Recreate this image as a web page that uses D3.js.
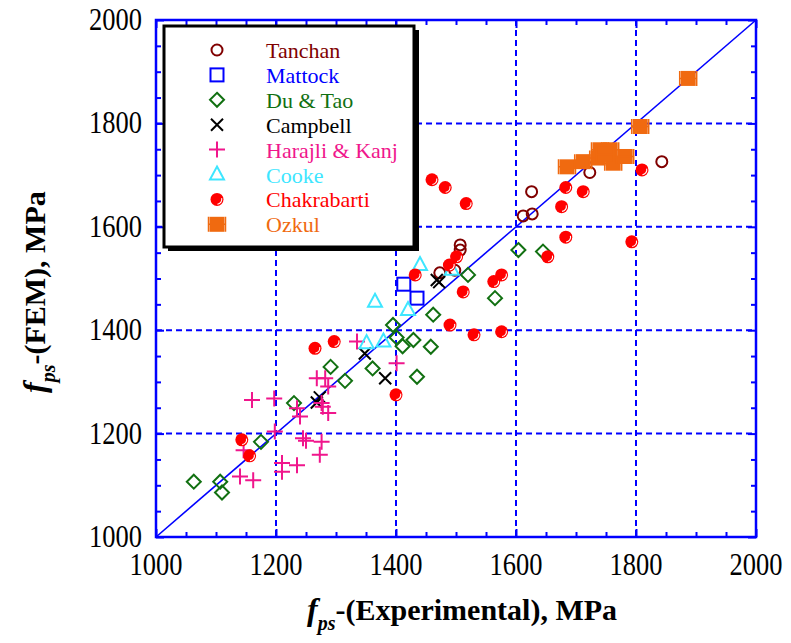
<!DOCTYPE html>
<html>
<head>
<meta charset="utf-8">
<script src="https://cdn.jsdelivr.net/npm/d3@7"></script>
<style>
    body { margin: 0; background: #fff; }
    svg { display: block; font-family: "Liberation Serif", "Times New Roman", serif; }
</style>
</head>
<body>
<div id="chart"></div>
<script>
// series, each point is [experimental, FEM] in MPa
var seriesNames = ['Tanchan', 'Mattock', 'Du & Tao', 'Campbell', 'Harajli & Kanj', 'Cooke', 'Chakrabarti', 'Ozkul'];

var tanchan = [[1843, 1726], [1723, 1705], [1626, 1668], [1612, 1621], [1627, 1625],
    [1507, 1565], [1507, 1555], [1473, 1511], [1498, 1516]];
var mattock = [[1413, 1489], [1435, 1462]];
var duTao = [[1063, 1107], [1107, 1107], [1110, 1086], [1175, 1184], [1230, 1259], [1315, 1302],
    [1291, 1329], [1361, 1326], [1395, 1410], [1401, 1386], [1411, 1369], [1429, 1381],
    [1458, 1368], [1462, 1430], [1435, 1310], [1520, 1507], [1565, 1462], [1604, 1555], [1645, 1552]];
var campbell = [[1268, 1260], [1273, 1270], [1348, 1355], [1382, 1307], [1468, 1497], [1472, 1493]];
var harajliKanj = [[1160, 1265], [1197, 1268], [1235, 1249], [1240, 1233], [1278, 1252], [1287, 1240],
    [1198, 1204], [1245, 1191], [1250, 1186], [1276, 1184], [1273, 1159], [1210, 1143], [1210, 1126],
    [1235, 1139], [1146, 1168], [1140, 1117], [1162, 1110], [1268, 1307], [1282, 1307], [1287, 1291],
    [1276, 1259], [1335, 1378], [1401, 1336]];
var cooke = [[1440, 1526], [1365, 1455], [1420, 1439], [1351, 1375], [1379, 1378], [1493, 1517]];
var chakrabarti = [[1143, 1188], [1156, 1157], [1265, 1365], [1297, 1378], [1400, 1275], [1432, 1507],
    [1489, 1526], [1501, 1542], [1512, 1474], [1563, 1494], [1576, 1507], [1490, 1410], [1530, 1391],
    [1576, 1397], [1653, 1542], [1460, 1691], [1482, 1676], [1517, 1645], [1683, 1676], [1676, 1639],
    [1712, 1668], [1683, 1580], [1793, 1571], [1810, 1710]];
var ozkul = [[1887, 1887], [1807, 1794], [1685, 1716], [1712, 1726], [1740, 1749], [1757, 1749],
    [1762, 1723], [1782, 1736], [1737, 1733], [1748, 1740]];

var tickLabels = [1000, 1200, 1400, 1600, 1800, 2000];
var gridValues = [1200, 1400, 1600, 1800];
var lineOfEquality = [[1000, 1000], [2000, 2000]];

var seriesData = [tanchan, mattock, duTao, campbell, harajliKanj, cooke, chakrabarti, ozkul];
var seriesStyle = [
    { shape: 'circle', color: '#800000' },
    { shape: 'square', color: '#0000ff' },
    { shape: 'diamond', color: '#117011' },
    { shape: 'cross', color: '#000000' },
    { shape: 'plus', color: '#f0168c' },
    { shape: 'triangle', color: '#3ee6ff' },
    { shape: 'dot', color: '#ff0000' },
    { shape: 'block', color: '#f06a10' }
];

function drawMarker(g, shape, color) {
    if (shape === 'circle') {
        g.append('circle').attr('r', 5.5).attr('fill', 'none').attr('stroke', color).attr('stroke-width', 2);
    } else if (shape === 'square') {
        g.append('rect').attr('x', -6.5).attr('y', -6.5).attr('width', 13).attr('height', 13)
            .attr('fill', 'none').attr('stroke', color).attr('stroke-width', 2);
    } else if (shape === 'diamond') {
        g.append('path').attr('d', 'M0,-7L7,0L0,7L-7,0Z')
            .attr('fill', 'none').attr('stroke', color).attr('stroke-width', 2);
    } else if (shape === 'cross') {
        g.append('path').attr('d', 'M-6,-6L6,6M-6,6L6,-6')
            .attr('stroke', color).attr('stroke-width', 2);
    } else if (shape === 'plus') {
        g.append('path').attr('d', 'M-8,0L8,0M0,-8L0,8')
            .attr('stroke', color).attr('stroke-width', 2);
    } else if (shape === 'triangle') {
        g.append('path').attr('d', 'M0,-8L7,5L-7,5Z')
            .attr('fill', 'none').attr('stroke', color).attr('stroke-width', 2);
    } else if (shape === 'dot') {
        g.append('circle').attr('r', 6.5).attr('fill', color);
        // little shine on the lower right
        var r = 4.8, a0 = -15 * Math.PI / 180, a1 = 85 * Math.PI / 180;
        g.append('path')
            .attr('d', 'M' + r * Math.cos(a0) + ',' + r * Math.sin(a0) + 'A' + r + ',' + r + ' 0 0 1 ' + r * Math.cos(a1) + ',' + r * Math.sin(a1))
            .attr('fill', 'none').attr('stroke', '#fff').attr('stroke-width', 1.1);
    } else if (shape === 'block') {
        g.append('rect').attr('x', -7.5).attr('y', -7.5).attr('width', 15).attr('height', 15).attr('fill', color);
        g.append('path').attr('d', 'M-8.5,-7.5L-8.5,7.5M8.5,-7.5L8.5,7.5M-8.5,0L8.5,0')
            .attr('stroke', color).attr('stroke-width', 1.5);
    }
}

(function () {
    var width = 791, height = 643;
    var plot = { left: 156, right: 756, top: 20, bottom: 537 };

    var svg = d3.select('#chart').append('svg').attr('width', width).attr('height', height);

    var xScale = d3.scaleLinear().domain([1000, 2000]).range([plot.left, plot.right]);
    var yScale = d3.scaleLinear().domain([1000, 2000]).range([plot.bottom, plot.top]);
    var blue = '#0000ff';

    // grid
    var grid = svg.append('g').attr('class', 'grid')
        .attr('stroke', blue).attr('stroke-width', 2).attr('stroke-dasharray', '6,4');
    grid.selectAll('.gx').data(gridValues).enter().append('line')
        .attr('x1', function (d) { return xScale(d); }).attr('x2', function (d) { return xScale(d); })
        .attr('y1', plot.top).attr('y2', plot.bottom);
    grid.selectAll('.gy').data(gridValues).enter().append('line')
        .attr('y1', function (d) { return yScale(d); }).attr('y2', function (d) { return yScale(d); })
        .attr('x1', plot.left).attr('x2', plot.right);

    // ticks on all four sides, pointing inwards
    var tickVals = d3.range(1000, 2001, 50);
    var tickLen = function (d) { return d % 200 === 0 ? 8 : 5; };
    var axes = [
        d3.axisBottom(xScale).tickValues(tickVals),
        d3.axisTop(xScale).tickValues(tickVals),
        d3.axisLeft(yScale).tickValues(tickVals),
        d3.axisRight(yScale).tickValues(tickVals)
    ];
    var offsets = ['translate(0,' + plot.bottom + ')', 'translate(0,' + plot.top + ')',
        'translate(' + plot.left + ',0)', 'translate(' + plot.right + ',0)'];
    axes.forEach(function (ax, i) {
        var g = svg.append('g').attr('transform', offsets[i]).call(ax.tickSizeOuter(0).tickFormat(''));
        g.select('.domain').remove();
        g.selectAll('.tick line').attr('stroke', blue).attr('stroke-width', 2)
            .each(function (d) {
                var l = tickLen(d);
                var line = d3.select(this);
                if (i === 0) line.attr('y2', -l);
                if (i === 1) line.attr('y2', l);
                if (i === 2) line.attr('x2', l);
                if (i === 3) line.attr('x2', -l);
            });
    });

    // frame
    svg.append('rect').attr('x', plot.left).attr('y', plot.top)
        .attr('width', plot.right - plot.left).attr('height', plot.bottom - plot.top)
        .attr('fill', 'none').attr('stroke', blue).attr('stroke-width', 2.5);

    // tick labels
    svg.append('g').selectAll('text').data(tickLabels).enter().append('text')
        .attr('x', function (d) { return xScale(d); }).attr('y', 575)
        .attr('text-anchor', 'middle').attr('font-size', 31)
        .attr('textLength', 53).attr('lengthAdjust', 'spacingAndGlyphs')
        .text(function (d) { return d; });
    svg.append('g').selectAll('text').data(tickLabels).enter().append('text')
        .attr('x', 142).attr('y', function (d) { return yScale(d) + 10; })
        .attr('text-anchor', 'end').attr('font-size', 31)
        .attr('textLength', 53).attr('lengthAdjust', 'spacingAndGlyphs')
        .text(function (d) { return d; });

    // 1:1 line
    svg.append('path').datum(lineOfEquality)
        .attr('d', d3.line().x(function (d) { return xScale(d[0]); }).y(function (d) { return yScale(d[1]); }))
        .attr('stroke', blue).attr('stroke-width', 1.6).attr('fill', 'none');

    // points
    seriesData.forEach(function (data, i) {
        var st = seriesStyle[i];
        svg.append('g').attr('class', 'series')
            .selectAll('.pt').data(data).enter().append('g').attr('class', 'pt')
            .attr('transform', function (d) { return 'translate(' + xScale(d[0]) + ',' + yScale(d[1]) + ')'; })
            .each(function () { drawMarker(d3.select(this), st.shape, st.color); });
    });

    // legend
    var legend = svg.append('g').attr('class', 'legend');
    legend.append('rect').attr('x', 168).attr('y', 30).attr('width', 251).attr('height', 221).attr('fill', '#000');
    legend.append('rect').attr('x', 164).attr('y', 26).attr('width', 250).attr('height', 221)
        .attr('fill', '#fff').attr('stroke', '#000').attr('stroke-width', 3);
    var items = legend.selectAll('.item').data(seriesNames).enter().append('g').attr('class', 'item')
        .attr('transform', function (d, i) { return 'translate(0,' + (50 + i * 24.9) + ')'; });
    items.append('g').attr('transform', 'translate(217,0)')
        .each(function (d, i) { drawMarker(d3.select(this), seriesStyle[i].shape, seriesStyle[i].color); });
    items.append('text').attr('x', 266).attr('y', 8).attr('font-size', 22)
        .attr('fill', function (d, i) { return seriesStyle[i].color; })
        .text(function (d) { return d; });

    // axis titles
    var xt = svg.append('text').attr('x', 307).attr('y', 620).attr('font-size', 30).attr('font-weight', 'bold');
    xt.append('tspan').attr('font-style', 'italic').attr('font-size', 32).text('f');
    xt.append('tspan').attr('font-style', 'italic').attr('font-size', 20).attr('dy', 10).text('ps');
    xt.append('tspan').attr('dy', -10).text('-(Experimental), MPa');

    var yt = svg.append('text').attr('transform', 'translate(45,393) rotate(-90)')
        .attr('font-size', 30).attr('font-weight', 'bold');
    yt.append('tspan').attr('font-style', 'italic').attr('font-size', 32).text('f');
    yt.append('tspan').attr('font-style', 'italic').attr('font-size', 20).attr('dy', 10).text('ps');
    yt.append('tspan').attr('dy', -10).text('-(FEM), MPa');
})();
</script>
</body>
</html>
